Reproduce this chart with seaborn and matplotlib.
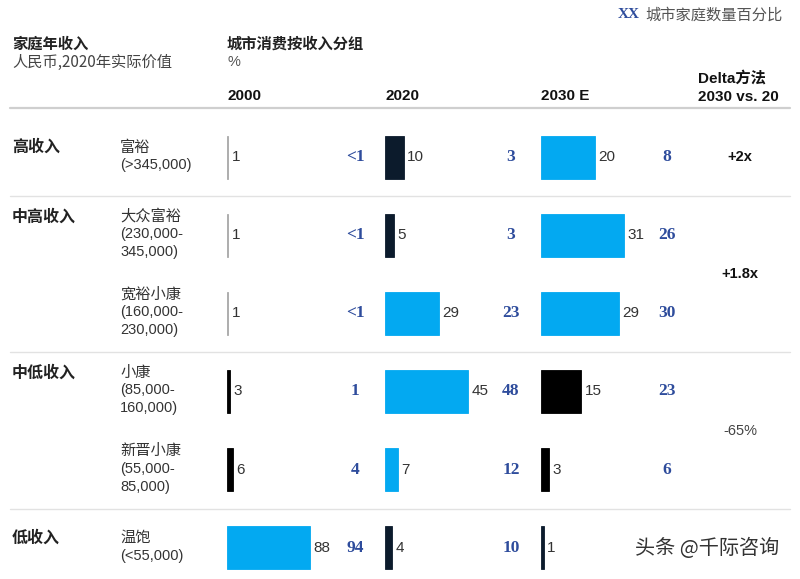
import numpy as np
import pandas as pd
import matplotlib.pyplot as plt
import seaborn as sns
from matplotlib.lines import Line2D
from matplotlib import transforms

sns.set_theme(style="white")
plt.rcParams['font.family'] = ['Liberation Sans', 'Noto Sans CJK SC']

# --- data ---------------------------------------------------------------
groups = ['高收入', '中高收入', '', '中低收入', '', '低收入']
segments = ['富裕', '大众富裕', '宽裕小康', '小康', '新晋小康', '温饱']
ranges = [['(>345,000)'], ['(230,000-', '345,000)'], ['(160,000-', '230,000)'],
          ['(85,000-', '160,000)'], ['(55,000-', '85,000)'], ['(<55,000)']]
years = ['2000', '2020', '2030 E']
share_2000 = [1, 1, 1, 3, 6, 88]
share_2020 = [10, 5, 29, 45, 7, 4]
share_2030 = [20, 31, 29, 15, 3, 1]
xx_2000 = ['<1', '<1', '<1', '1', '4', '94']
xx_2020 = ['3', '3', '23', '48', '12', '10']
xx_2030 = ['8', '26', '30', '23', '6', '']
delta_labels = ['+2x', '+1.8x', '-65%']

# bar tones per column (style only)
tones_2000 = ['grey', 'grey', 'grey', 'black', 'black', 'blue']
tones_2020 = ['navy', 'navy', 'blue', 'blue', 'blue', 'navy']
tones_2030 = ['blue', 'blue', 'blue', 'black', 'black', 'navy']
tone_colors = {'blue': '#03A9F1', 'navy': '#0C1B2C', 'black': '#000000', 'grey': '#a8a8a8'}

W, H = 800, 579
fig = plt.figure(figsize=(W / 100, H / 100), dpi=100)
fig.patch.set_facecolor('white')

CJK = ['Noto Sans CJK SC', 'Liberation Sans']
BLUE_TXT = '#2E4C9C'


def ftext(x, y, s, **kw):
    kw.setdefault('va', 'center')
    kw.setdefault('ha', 'left')
    kw.setdefault('color', '#222222')
    return fig.text(x / W, 1 - y / H, s, **kw)


def hline(y, lw=1.0, color='#e2e2e2'):
    fig.add_artist(Line2D([10 / W, 790 / W], [1 - y / H, 1 - y / H],
                          color=color, lw=lw, transform=fig.transFigure))


# layout of the rows (pixel units, top origin)
top, bottom = 118, 579
unit = (bottom - top) / 5.9
row_y = [top + (i + 0.5) * unit for i in range(len(segments))]

# --- header -------------------------------------------------------------
ftext(618, 15, 'XX', color=BLUE_TXT, fontsize=11, fontweight='bold', family='Liberation Serif')
ftext(645, 15, '城市家庭数量百分比', color='#555555', fontsize=11, family=CJK)
ftext(12, 44, '家庭年收入', fontsize=11, fontweight='bold', family=CJK)
ftext(12, 62, '人民币,2020年实际价值', fontsize=11, color='#444444', family=CJK)
ftext(227, 44, '城市消费按收入分组', fontsize=11, fontweight='bold', family=CJK)
ftext(227, 62, '%', fontsize=10.5, color='#555555')
col_x = [227, 385, 541]
for x, yr in zip(col_x, years):
    ftext(x, 96, yr, fontsize=11, fontweight='bold', color='#111111')
ftext(698, 78, 'Delta方法', fontsize=11, fontweight='bold', color='#111111')
ftext(698, 97, '2030 vs. 20', fontsize=11, fontweight='bold', color='#111111')

hline(108, lw=1.6, color='#cfcfcf')
for i in (0, 2, 4):
    hline((row_y[i] + row_y[i + 1]) / 2)

# --- row labels ---------------------------------------------------------
for i, (g, seg, rng) in enumerate(zip(groups, segments, ranges)):
    lines = [seg] + rng
    y0 = row_y[i] - 9 * (len(lines) - 1) - 1
    if g:
        ftext(12, y0, g, fontsize=11.5, fontweight='bold', family=CJK)
    for k, ln in enumerate(lines):
        fam = CJK if k == 0 else ['Liberation Sans']
        ftext(120, y0 + 18 * k, ln, fontsize=10.5 if k else 11, family=fam, color='#333333')

# --- bar panels ---------------------------------------------------------
panels = [(share_2000, tones_2000, xx_2000, 355),
          (share_2020, tones_2020, xx_2020, 511),
          (share_2030, tones_2030, xx_2030, 667)]
panel_w = 150
for x0, (vals, tones, xx, xx_pos) in zip(col_x, panels):
    ax = fig.add_axes([x0 / W, 1 - bottom / H, panel_w / W, (bottom - top) / H])
    df = pd.DataFrame({'segment': segments, 'share': vals})
    sns.barplot(data=df, x='share', y='segment', hue='segment', orient='h',
                palette=[tone_colors[t] for t in tones], width=0.55,
                saturation=1, legend=False, ax=ax)
    # keep hairline bars (values near 1) visible
    for p in ax.patches:
        p.set_edgecolor(p.get_facecolor())
        p.set_linewidth(0.6)
    ax.set_xlim(0, max(vals) * 1.8)
    ax.set_ylim(5.4, -0.5)
    ax.axis('off')
    for c in ax.containers:
        ax.bar_label(c, fmt='%g', padding=2.5, fontsize=11, color='#333333')
    trans = transforms.blended_transform_factory(fig.transFigure, ax.transData)
    for i, s in enumerate(xx):
        ax.text(xx_pos / W, i, s, transform=trans, ha='center', va='center',
                fontsize=12.5, fontweight='bold', family='Liberation Serif', color=BLUE_TXT)

# --- delta column -------------------------------------------------------
ftext(740, row_y[0], delta_labels[0], ha='center', fontsize=10.5, fontweight='bold', color='#111111')
ftext(740, (row_y[1] + row_y[2]) / 2, delta_labels[1], ha='center', fontsize=10.5,
      fontweight='bold', color='#111111')
ftext(740, (row_y[3] + row_y[4]) / 2, delta_labels[2], ha='center', fontsize=10.5, color='#444444')

# watermark as in the source image
ftext(635, 548, '头条 @千际咨询', fontsize=14.5, family=CJK, color='#333333')

fig.savefig('out.png', dpi=100)
